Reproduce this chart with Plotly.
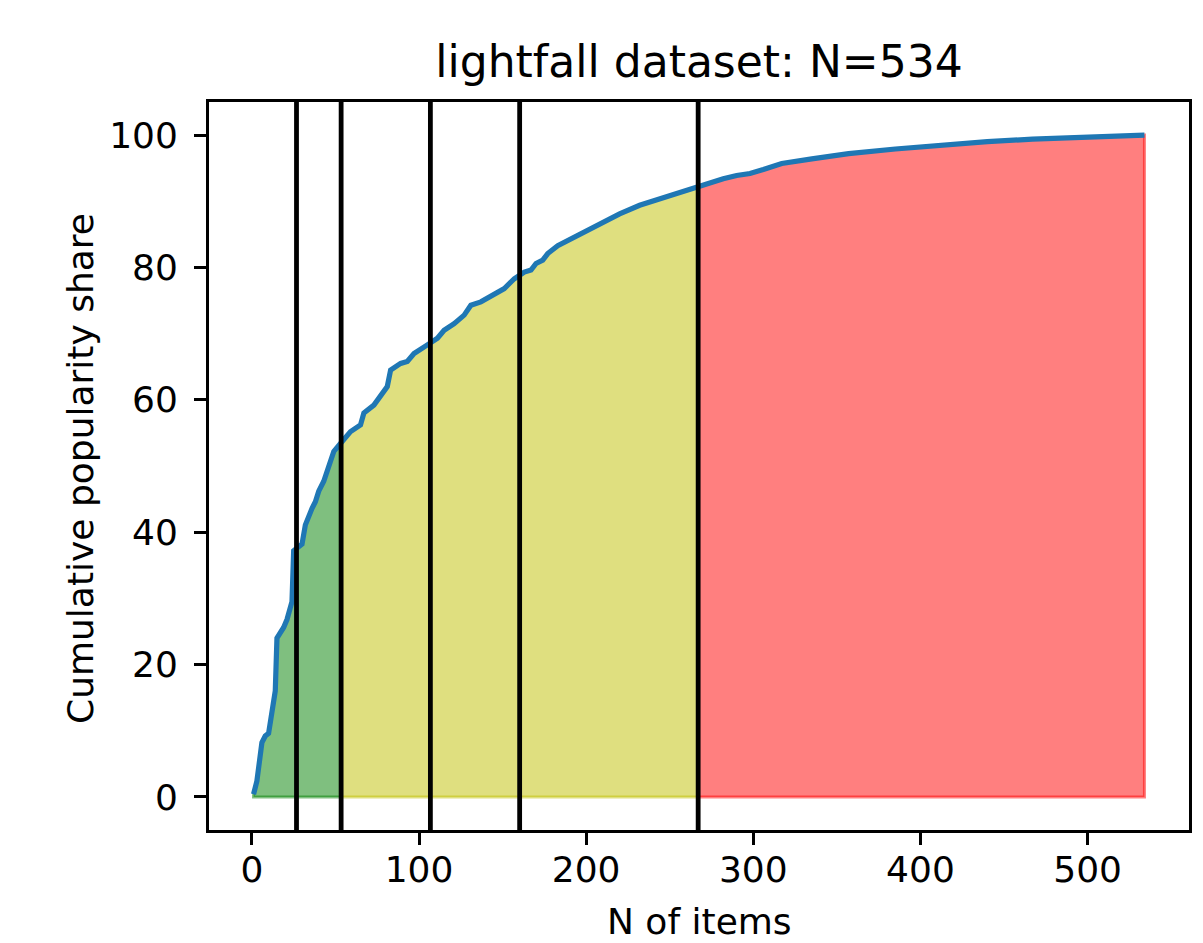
import plotly.graph_objects as go

# ---- data ----
n_items = [1, 2, 3, 6, 8, 10, 12, 14, 15, 17, 19, 21, 23, 24, 25, 28, 30, 32, 34, 36,
           38, 40, 43, 46, 49, 53, 56, 59, 65, 67, 73, 77, 81, 83, 89, 93, 97, 105,
           111, 115, 121, 127, 131, 137, 143, 151, 157, 163, 167, 170, 174, 177, 183,
           189, 196, 201, 211, 220, 232, 244, 254, 262, 267, 274, 282, 290, 298, 306,
           317, 335, 357, 385, 412, 440, 467, 495, 534]
cum_share = [0.4, 1.5, 2.4, 8.2, 9.2, 9.6, 12.5, 16.0, 24.0, 24.8, 25.6, 26.8, 28.8, 29.5,
             37.2, 37.7, 38.2, 41.1, 42.5, 43.6, 44.6, 46.2, 47.7, 50.2, 52.2, 53.4,
             54.3, 55.2, 56.2, 58.0, 59.2, 60.5, 62.0, 64.5, 65.5, 65.8, 67.0, 68.3,
             69.3, 70.5, 71.5, 72.8, 74.3, 74.8, 75.6, 76.8, 78.3, 79.3, 79.6, 80.6,
             81.1, 82.1, 83.3, 84.1, 85.1, 85.6, 86.9, 88.1, 89.4, 90.4, 91.1, 91.9,
             92.2, 92.7, 93.4, 93.9, 94.2, 94.8, 95.7, 96.4, 97.2, 97.9, 98.5, 99.0,
             99.4, 99.7, 100.0]
threshold_lines = [26.7, 53.4, 106.8, 160.2, 267]
segment_bounds = [(1, 53), (53, 267), (267, 534)]
segment_colors = ["rgba(0,128,0,0.5)", "rgba(191,191,0,0.5)", "rgba(255,0,0,0.5)"]

title_text = "lightfall dataset: N=534"
x_title = "N of items"
y_title = "Cumulative popularity share"
x_ticks = [0, 100, 200, 300, 400, 500]
y_ticks = [0, 20, 40, 60, 80, 100]

FONT = "DejaVu Sans"
W, H = 1203, 943
ML, MR, MT, MB = 209, 14, 102, 113
PW, PH = W - ML - MR, H - MT - MB

fig = go.Figure()

for (lo, hi), col in zip(segment_bounds, segment_colors):
    xs = [x for x in n_items if lo <= x <= hi]
    ys = [y for x, y in zip(n_items, cum_share) if lo <= x <= hi]
    px = xs + [xs[-1], xs[0], xs[0]]
    py = ys + [0, 0, ys[0]]
    fig.add_trace(go.Scatter(x=px, y=py, mode="lines", fill="toself",
                             fillcolor=col, line=dict(color=col, width=3),
                             hoverinfo="skip", showlegend=False))

fig.add_trace(go.Scatter(x=n_items, y=cum_share, mode="lines",
                         line=dict(color="#1f77b4", width=5.2),
                         showlegend=False))

for xv in threshold_lines:
    fig.add_shape(type="line", x0=xv, x1=xv, y0=0, y1=1, xref="x", yref="paper",
                  line=dict(color="black", width=4.8), layer="above")

axis_common = dict(showgrid=False, zeroline=False, showline=True, linecolor="black",
                   linewidth=2.8, mirror=True, ticks="outside", ticklen=12,
                   tickwidth=2.8, tickcolor="black",
                   tickfont=dict(family=FONT, size=36, color="black"))

fig.update_xaxes(range=[-25.65, 560.65], tickvals=x_ticks,
                 ticklabelstandoff=-6, **axis_common)
fig.update_yaxes(range=[-5, 105], tickvals=y_ticks,
                 ticklabelstandoff=9, **axis_common)

# axis titles placed as annotations (x-title centre y~923, y-title centre x=80)
fig.add_annotation(text=x_title, xref="paper", yref="paper",
                   x=0.5, y=(PH - (921 - MT)) / PH,
                   xanchor="center", yanchor="middle", showarrow=False,
                   font=dict(family=FONT, size=36, color="black"))
fig.add_annotation(text=y_title, xref="paper", yref="paper",
                   x=(80 - ML) / PW, y=(PH - (469 - MT)) / PH,
                   xanchor="center", yanchor="middle", showarrow=False, textangle=-90,
                   font=dict(family=FONT, size=36, color="black"))

fig.update_layout(
    width=W, height=H,
    margin=dict(l=ML, r=MR, t=MT, b=MB, autoexpand=False),
    plot_bgcolor="white", paper_bgcolor="white",
    title=dict(text=title_text, font=dict(family=FONT, size=44, color="black"),
               x=0.5, xref="paper", xanchor="center",
               y=1 - 62 / H, yref="container", yanchor="middle"),
    showlegend=False,
)

fig.write_html("out.html", config={"displayModeBar": False},
               post_script="document.body.style.margin='0';"
                           "document.documentElement.style.overflow='hidden';")
